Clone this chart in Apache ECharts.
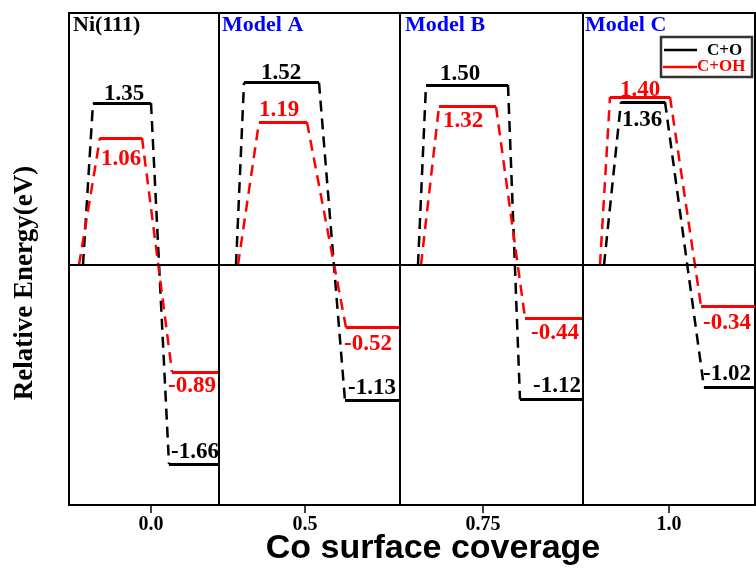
<!DOCTYPE html>
<html>
<head>
<meta charset="utf-8">
<script src="https://cdn.jsdelivr.net/npm/echarts@6/dist/echarts.min.js"></script>
<style>html,body{margin:0;padding:0;background:#fff;}#chart{width:756px;height:573px;}</style>
</head>
<body>
<div id="chart"></div>
<script>
// ---------------- data ----------------
const panels = ['Ni(111)', 'Model A', 'Model B', 'Model C'];
const tickLabels = ['0.0', '0.5', '0.75', '1.0'];
const seriesNames = ['C+O', 'C+OH'];
const tsCO = [1.35, 1.52, 1.50, 1.36];     // transition state, C+O
const fsCO = [-1.66, -1.13, -1.12, -1.02]; // final state, C+O
const tsCOH = [1.06, 1.19, 1.32, 1.40];    // transition state, C+OH
const fsCOH = [-0.89, -0.52, -0.44, -0.34];// final state, C+OH

// ---------------- layout (x in grid pixel units) ----------------
const panelEdges = [0, 150, 331, 514, 686];
const tickPos = [82, 236, 414, 600];
// [start, tsLeft, tsRight, fsLeft]
const geomCO = [[14, 24, 82, 100], [167, 175, 250, 276], [349, 357, 439, 451], [535, 552, 596, 635]];
const geomCOH = [[10, 31, 73, 103], [169, 190, 238, 277], [352, 370, 427, 456], [531, 541, 601, 632]];
// label layout: [x, dy] for TS and FS labels
const lblCO = { ts: [[55, -9], [212, -10], [391, -11], [573, 18]], fs: [[126, -12], [303, -13], [488, -13], [658, -13]] };
const lblCOH = { ts: [[52, 21], [210, -12], [394, 14], [571, -7]], fs: [[123, 14], [299, 17], [486, 15], [658, 17]] };
const titleX = [73, 222, 405, 585];

const dash = [11, 7];
function segs(ts, fs, geom, color) {
  const out = [];
  ts.forEach((t, i) => {
    const g = geom[i], f = fs[i], right = panelEdges[i + 1];
    out.push({ coords: [[g[0], 0], [g[1], t]], lineStyle: { type: dash, width: 2.5, color, opacity: 1 } });
    out.push({ coords: [[g[1], t], [g[2], t]], lineStyle: { type: 'solid', width: 3, color, opacity: 1 } });
    out.push({ coords: [[g[2], t], [g[3], f]], lineStyle: { type: dash, width: 2.5, color, opacity: 1 } });
    out.push({ coords: [[g[3], f], [right, f]], lineStyle: { type: 'solid', width: 3, color, opacity: 1 } });
  });
  return out;
}
function labels(ts, fs, lay) {
  const out = [];
  ts.forEach((t, i) => {
    out.push({ value: [lay.ts[i][0], t], label: { offset: [0, lay.ts[i][1]] } });
    out.push({ value: [lay.fs[i][0], fs[i]], label: { offset: [0, lay.fs[i][1]] } });
  });
  return out;
}
const serif = 'Liberation Serif, Times New Roman, serif';
const lblStyle = (color) => ({
  show: true, position: 'inside', color, opacity: 1, fontFamily: serif, fontWeight: 'bold', fontSize: 23,
  formatter: (p) => p.value[1].toFixed(2)
});

const chart = echarts.init(document.getElementById('chart'), null, { renderer: 'canvas' });
chart.setOption({
  animation: false,
  backgroundColor: '#fff',
  grid: { left: 69, right: 1, top: 13, bottom: 68, containLabel: false },
  xAxis: [
    {
      type: 'value', min: 0, max: 686, position: 'bottom',
      axisLine: { show: true, onZero: false, lineStyle: { color: '#000', width: 2 } },
      axisTick: { show: true, inside: false, length: 8, customValues: tickPos, lineStyle: { color: '#000', width: 1.5 } },
      axisLabel: {
        show: true, customValues: tickPos, margin: 10, color: '#000', fontFamily: serif, fontWeight: 'bold', fontSize: 20,
        formatter: (v) => { const k = tickPos.findIndex(t => Math.abs(t - v) < 0.5); return k >= 0 ? tickLabels[k] : ''; }
      },
      splitLine: { show: false }
    },
    {
      type: 'value', min: 0, max: 686, position: 'top',
      axisLine: { show: true, onZero: false, lineStyle: { color: '#000', width: 2 } },
      axisTick: { show: false }, axisLabel: { show: false }, splitLine: { show: false }
    }
  ],
  yAxis: [
    {
      type: 'value', min: -2, max: 2.1, position: 'left',
      axisLine: { show: true, onZero: false, lineStyle: { color: '#000', width: 2 } },
      axisTick: { show: false }, axisLabel: { show: false }, splitLine: { show: false }
    },
    {
      type: 'value', min: -2, max: 2.1, position: 'right',
      axisLine: { show: true, onZero: false, lineStyle: { color: '#000', width: 2 } },
      axisTick: { show: false }, axisLabel: { show: false }, splitLine: { show: false }
    }
  ],
  series: [
    {
      type: 'line', data: [], silent: true,
      markLine: {
        silent: true, symbol: 'none', label: { show: false },
        lineStyle: { color: '#000', width: 2, type: 'solid', opacity: 1 },
        data: [{ xAxis: panelEdges[1] }, { xAxis: panelEdges[2] }, { xAxis: panelEdges[3] }, { yAxis: 0 }]
      }
    },
    { name: seriesNames[0], type: 'lines', coordinateSystem: 'cartesian2d', polyline: false, silent: true, lineStyle: { opacity: 1 }, data: segs(tsCO, fsCO, geomCO, '#000') },
    { name: seriesNames[1], type: 'lines', coordinateSystem: 'cartesian2d', polyline: false, silent: true, lineStyle: { opacity: 1 }, data: segs(tsCOH, fsCOH, geomCOH, '#ff0000') },
    { type: 'scatter', symbolSize: 0, silent: true, itemStyle: { opacity: 1 }, label: lblStyle('#000'), data: labels(tsCO, fsCO, lblCO) },
    { type: 'scatter', symbolSize: 0, silent: true, itemStyle: { opacity: 1 }, label: lblStyle('#ff0000'), data: labels(tsCOH, fsCOH, lblCOH) }
  ],
  graphic: [
    ...panels.map((p, i) => ({
      type: 'text', x: titleX[i], y: 25,
      style: { text: p, fill: i === 0 ? '#000' : '#0000ff', font: 'bold 22px ' + serif, textAlign: 'left', textVerticalAlign: 'middle' }
    })),
    { type: 'rect', shape: { x: 661, y: 37, width: 91, height: 40 }, style: { fill: '#fff', stroke: '#333', lineWidth: 2.5 } },
    { type: 'line', shape: { x1: 664, y1: 50, x2: 697, y2: 50 }, style: { stroke: '#000', lineWidth: 2.5 } },
    { type: 'text', x: 707, y: 51, style: { text: seriesNames[0], fill: '#000', font: 'bold 17px ' + serif, textVerticalAlign: 'middle' } },
    { type: 'line', shape: { x1: 663, y1: 67, x2: 697, y2: 67 }, style: { stroke: '#ff0000', lineWidth: 2.5 } },
    { type: 'text', x: 697, y: 67, style: { text: seriesNames[1], fill: '#ff0000', font: 'bold 17px ' + serif, textVerticalAlign: 'middle' } },
    { type: 'text', x: 25, y: 283, rotation: Math.PI / 2, style: { text: 'Relative Energy(eV)', fill: '#000', font: 'bold 27px ' + serif, textAlign: 'center', textVerticalAlign: 'middle' } },
    { type: 'text', x: 433, y: 549, style: { text: 'Co surface coverage', fill: '#000', font: 'bold 34px Liberation Sans, Arial, sans-serif', textAlign: 'center', textVerticalAlign: 'middle' } }
  ]
});
</script>
</body>
</html>
